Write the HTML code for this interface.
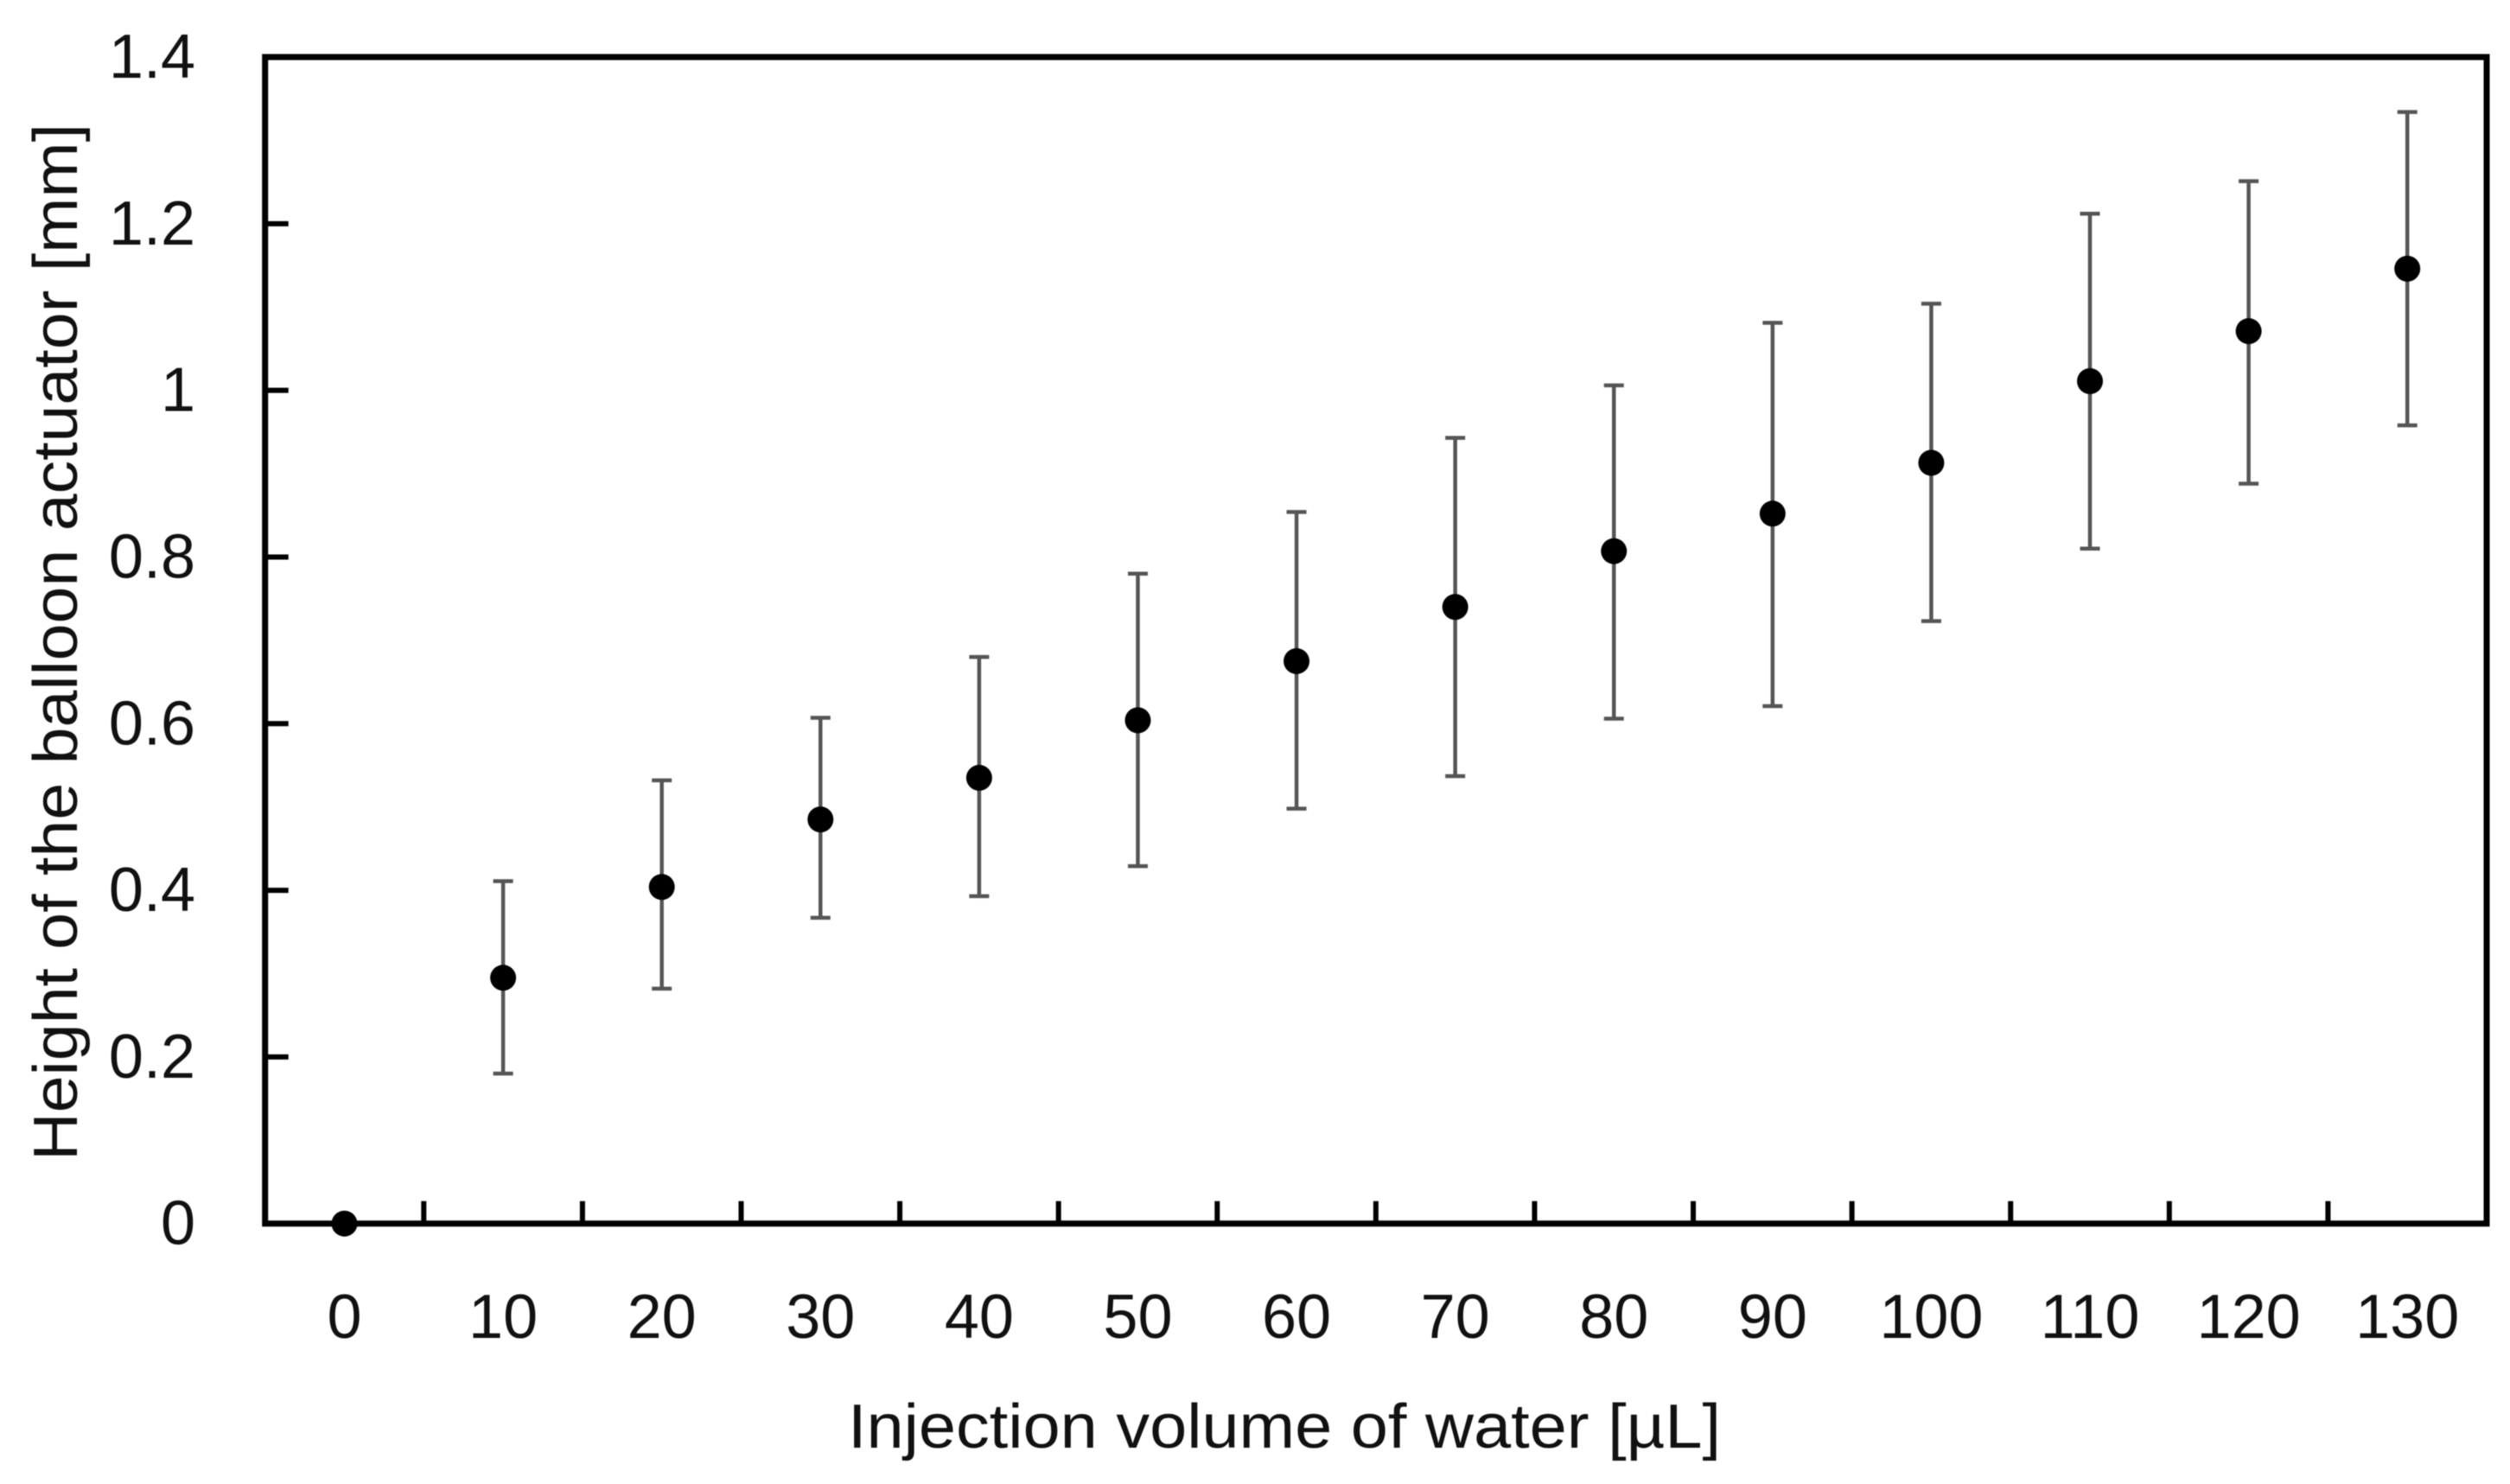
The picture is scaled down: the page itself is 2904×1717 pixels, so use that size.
<!DOCTYPE html>
<html lang="en">
<head>
<meta charset="utf-8">
<title>Height of the balloon actuator vs injection volume</title>
<style>
  html, body { margin: 0; padding: 0; background: #fff; }
  #chart { display: block; filter: blur(0.6px); }
  text { font-family: "Liberation Sans", sans-serif; fill: #111; }
</style>
</head>
<body>
<svg id="chart" xmlns="http://www.w3.org/2000/svg" width="2904" height="1717" viewBox="0 0 2904 1717">
  <rect x="0" y="0" width="2904" height="1717" fill="#ffffff"/>
  <g id="ticks"></g>
  <rect x="306.7" y="66" width="2570.3" height="1349.7" fill="none" stroke="#000" stroke-width="7"/>
  <g id="tick-labels"></g>
  <g id="errors"></g>
  <g id="points"></g>
  <text x="1486" y="1675" font-size="72" text-anchor="middle" textLength="1010" lengthAdjust="spacingAndGlyphs">Injection volume of water [µL]</text>
  <text transform="translate(89,743) rotate(-90)" x="0" y="0" font-size="72" text-anchor="middle" textLength="1200" lengthAdjust="spacingAndGlyphs">Height of the balloon actuator [mm]</text>
</svg>
<script>
const categories = [0, 10, 20, 30, 40, 50, 60, 70, 80, 90, 100, 110, 120, 130];
const heights = [0, 0.295, 0.404, 0.485, 0.535, 0.604, 0.675, 0.740, 0.807, 0.852, 0.913, 1.011, 1.071, 1.146];
const errorUpper = [0, 0.411, 0.532, 0.607, 0.680, 0.780, 0.854, 0.943, 1.006, 1.081, 1.104, 1.212, 1.251, 1.334];
const errorLower = [0, 0.180, 0.282, 0.367, 0.393, 0.429, 0.498, 0.537, 0.606, 0.621, 0.723, 0.810, 0.888, 0.958];
const yTicks = [0, 0.2, 0.4, 0.6, 0.8, 1, 1.2, 1.4];

const NS = 'http://www.w3.org/2000/svg';
const plotLeft = 306.7, plotRight = 2877, plotTop = 66, plotBottom = 1415.7;
const yMax = 1.4;
const step = (plotRight - plotLeft) / categories.length;

function xCenter(i) { return plotLeft + step * (i + 0.5); }
function xEdge(i) { return plotLeft + step * i; }
function yPos(v) { return plotBottom - (v / yMax) * (plotBottom - plotTop); }

function makeLine(parent, x1, y1, x2, y2, color, width) {
  const l = document.createElementNS(NS, 'line');
  l.setAttribute('x1', x1);
  l.setAttribute('y1', y1);
  l.setAttribute('x2', x2);
  l.setAttribute('y2', y2);
  l.setAttribute('stroke', color);
  l.setAttribute('stroke-width', width);
  parent.appendChild(l);
  return l;
}

function makeText(parent, x, y, anchor, content) {
  const t = document.createElementNS(NS, 'text');
  t.setAttribute('x', x);
  t.setAttribute('y', y);
  t.setAttribute('font-size', '72');
  t.setAttribute('text-anchor', anchor);
  t.textContent = content;
  parent.appendChild(t);
  return t;
}

const tickGroup = document.getElementById('ticks');
const labelGroup = document.getElementById('tick-labels');
const errorGroup = document.getElementById('errors');
const pointGroup = document.getElementById('points');

yTicks.forEach(function (v) {
  if (v > 0 && v < yMax) {
    const tick = makeLine(tickGroup, plotLeft, yPos(v), plotLeft + 27, yPos(v), '#000', 6);
    
    
  }
  const label = makeText(labelGroup, 226, yPos(v) + 24, 'end', String(v));
  
  
});

categories.forEach(function (c, i) {
  if (i > 0) {
    const tick = makeLine(tickGroup, xEdge(i), plotBottom, xEdge(i), plotBottom - 26, '#000', 6);
    
    
  }
  const label = makeText(labelGroup, xCenter(i), 1548, 'middle', String(c));
  
  

  if (errorUpper[i] !== errorLower[i]) {
    const stem = makeLine(errorGroup, xCenter(i), yPos(errorUpper[i]), xCenter(i), yPos(errorLower[i]), '#555', 4.5);
    
    
    const capTop = makeLine(errorGroup, xCenter(i) - 11.5, yPos(errorUpper[i]), xCenter(i) + 11.5, yPos(errorUpper[i]), '#555', 4.5);
    
    
    const capBottom = makeLine(errorGroup, xCenter(i) - 11.5, yPos(errorLower[i]), xCenter(i) + 11.5, yPos(errorLower[i]), '#555', 4.5);
    
    
  }

  const dot = document.createElementNS(NS, 'circle');
  dot.setAttribute('cx', xCenter(i));
  dot.setAttribute('cy', yPos(heights[i]));
  dot.setAttribute('r', '15');
  dot.setAttribute('fill', '#000');
  
  
  pointGroup.appendChild(dot);
});
</script>
</body>
</html>
